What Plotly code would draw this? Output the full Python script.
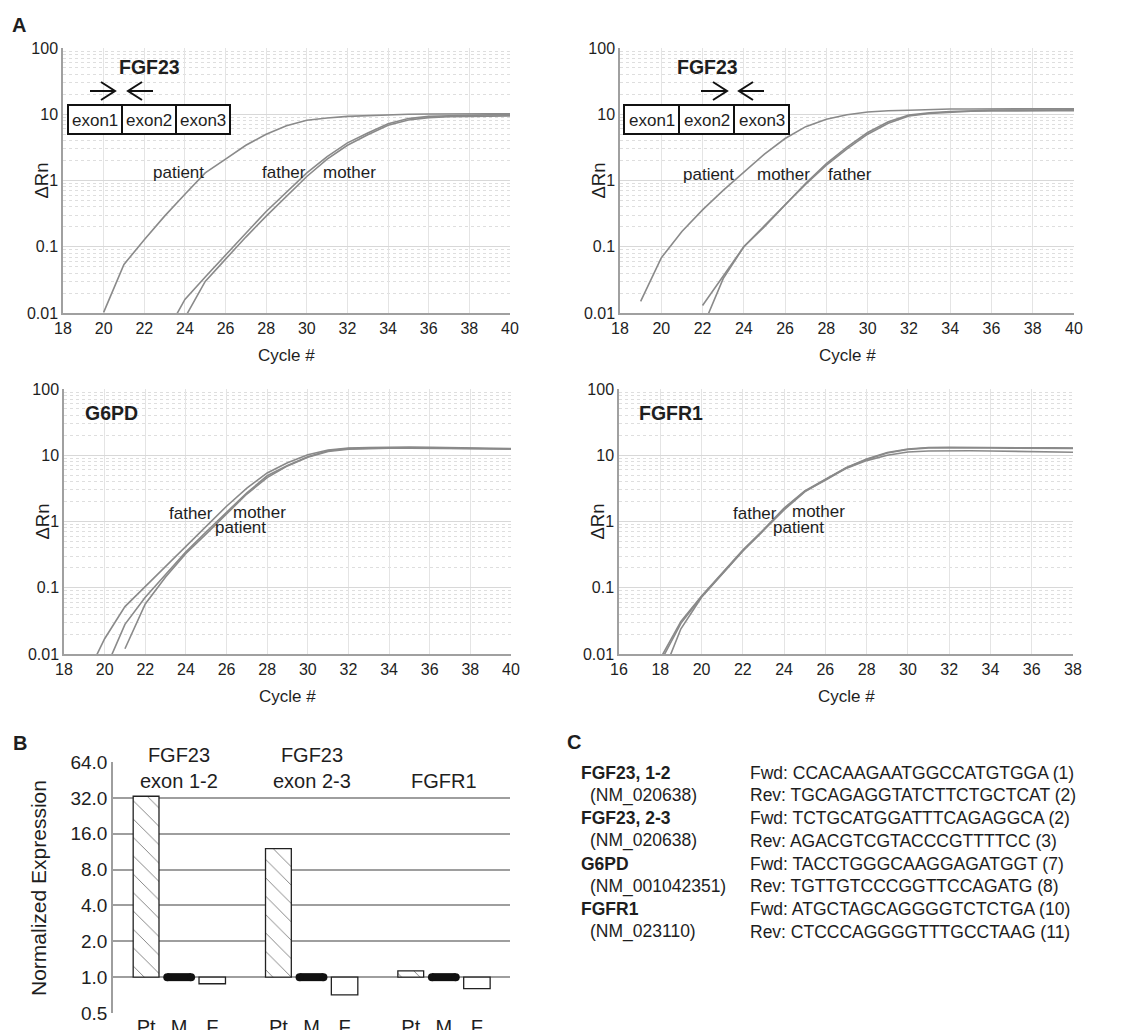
import math
import plotly.graph_objects as go

W, H = 1121, 1030          # target picture size
OFF = 8                    # page body margin in the browser
FW, FH = W - OFF, H - OFF  # figure size that fits in the window
FONT = "Liberation Sans, Arial, sans-serif"

# ---------------- DATA ----------------
# Panel A1: FGF23 exon 1-2 amplification (delta Rn per cycle)
a1_patient_cycle = list(range(20, 41))
a1_patient = [0.0102, 0.054, 0.128, 0.29, 0.62, 1.3, 2.1, 3.4, 5.0, 6.7, 8.1,
              8.8, 9.3, 9.6, 9.8, 10.0, 10.1, 10.2, 10.2, 10.2, 10.2]
a1_father_cycle = list(range(23, 41))
a1_father = [0.0045, 0.016, 0.035, 0.076, 0.16, 0.34, 0.66, 1.3, 2.3, 3.7, 5.2,
             7.2, 8.6, 9.3, 9.5, 9.7, 9.8, 9.8]
a1_mother_cycle = list(range(24, 41))
a1_mother = [0.0085, 0.03, 0.065, 0.14, 0.29, 0.58, 1.15, 2.1, 3.4, 4.9, 6.8,
             8.2, 8.9, 9.2, 9.35, 9.4, 9.45]

# Panel A2: FGF23 exon 2-3
a2_patient_cycle = list(range(19, 41))
a2_patient = [0.015, 0.068, 0.17, 0.36, 0.71, 1.35, 2.5, 4.3, 6.5, 8.4, 9.8,
              10.8, 11.3, 11.5, 11.8, 12.0, 12.0, 12.1, 12.1, 12.1, 12.1, 12.1]
a2_mother_cycle = list(range(22, 41))
a2_mother = [0.013, 0.036, 0.1, 0.2, 0.42, 0.91, 1.8, 3.2, 5.3, 7.7, 9.7,
             10.5, 11.0, 11.3, 11.5, 11.6, 11.7, 11.7, 11.7]
a2_father_cycle = list(range(22, 41))
a2_father = [0.006, 0.033, 0.1, 0.21, 0.43, 0.88, 1.7, 3.0, 5.0, 7.3, 9.4,
             10.3, 10.8, 11.1, 11.2, 11.3, 11.3, 11.3, 11.3]

# Panel A3: G6PD
a3_father_cycle = list(range(19, 41))
a3_father = [0.004, 0.017, 0.052, 0.105, 0.21, 0.42, 0.85, 1.7, 3.2, 5.4, 7.7,
             10.2, 12.0, 12.8, 13.1, 13.3, 13.3, 13.2, 13.0, 12.8, 12.7, 12.6]
a3_mother_cycle = list(range(20, 41))
a3_mother = [0.0055, 0.028, 0.072, 0.16, 0.35, 0.7, 1.4, 2.7, 4.9, 7.0, 9.5,
             11.7, 12.6, 12.9, 13.0, 13.0, 12.9, 12.8, 12.6, 12.5, 12.4]
a3_patient_cycle = list(range(21, 41))
a3_patient = [0.012, 0.057, 0.145, 0.33, 0.65, 1.3, 2.6, 4.6, 6.9, 9.3,
              11.4, 12.3, 12.6, 12.8, 12.8, 12.7, 12.6, 12.5, 12.4, 12.4]

# Panel A4: FGFR1
a4_cycle = list(range(18, 39))
a4_father = [0.0085, 0.031, 0.075, 0.165, 0.37, 0.75, 1.6, 2.9, 4.3, 6.5, 8.8,
             11.0, 12.4, 13.1, 13.2, 13.2, 13.1, 13.0, 12.9, 12.9, 12.8]
a4_mother = [0.0075, 0.029, 0.073, 0.16, 0.36, 0.73, 1.55, 2.85, 4.2, 6.4, 8.6,
             10.8, 12.2, 12.9, 13.0, 13.0, 12.9, 12.8, 12.8, 12.7, 12.7]
a4_patient = [0.004, 0.024, 0.072, 0.16, 0.36, 0.74, 1.5, 2.8, 4.3, 6.3, 8.3,
              10.0, 11.2, 11.6, 11.7, 11.7, 11.6, 11.5, 11.4, 11.3, 11.1]

# Panel B: normalized expression
b_groups = ["FGF23\nexon 1-2", "FGF23\nexon 2-3", "FGFR1"]
b_members = ["Pt", "M", "F"]
b_patient = [33.0, 12.0, 1.13]
b_mother = [1.0, 1.0, 1.0]
b_father = [0.88, 0.71, 0.80]
b_yticks = [0.5, 1, 2, 4, 8, 16, 32, 64]
b_yticktext = ["0.5", "1.0", "2.0", "4.0", "8.0", "16.0", "32.0", "64.0"]

# Panel C: primer table
c_gene = ["FGF23, 1-2", "FGF23, 2-3", "G6PD", "FGFR1"]
c_accession = ["(NM_020638)", "(NM_020638)", "(NM_001042351)", "(NM_023110)"]
c_fwd = ["CCACAAGAATGGCCATGTGGA (1)", "TCTGCATGGATTTCAGAGGCA (2)",
         "TACCTGGGCAAGGAGATGGT (7)", "ATGCTAGCAGGGGTCTCTGA (10)"]
c_rev = ["TGCAGAGGTATCTTCTGCTCAT (2)", "AGACGTCGTACCCGTTTTCC (3)",
         "TGTTGTCCCGGTTCCAGATG (8)", "CTCCCAGGGGTTTGCCTAAG (11)"]

a_yticks = [0.01, 0.1, 1, 10, 100]
a_yticktext = ["0.01", "0.1", "1", "10", "100"]

# ---------------- HELPERS ----------------
def px(x):
    return (x - OFF) / FW


def py(y):
    return 1 - (y - OFF) / FH


CURVE = "#8a8a8a"
TXT = "#1e1e1e"

fig = go.Figure()
annotations = []
shapes = []

minor_vals = [m * 10 ** e for e in range(-2, 2) for m in range(2, 10)]


def add_a_panel(n, xpx, ypx, xrange_, series, labels, title=None):
    xa = "xaxis" + ("" if n == 1 else str(n))
    ya = "yaxis" + ("" if n == 1 else str(n))
    xr = "x" + ("" if n == 1 else str(n))
    yr = "y" + ("" if n == 1 else str(n))
    fig.update_layout({
        xa: dict(domain=[px(xpx[0]), px(xpx[1])], anchor=yr, range=xrange_,
                 dtick=2, tick0=xrange_[0], showgrid=True, gridcolor="#e4e4e4",
                 gridwidth=1, zeroline=False, showline=True, linecolor="#a0a0a0",
                 linewidth=1.5, ticks="", automargin=False,
                 tickfont=dict(size=16, color=TXT, family=FONT), fixedrange=True),
        ya: dict(domain=[py(ypx[1]), py(ypx[0])], anchor=xr, type="log",
                 range=[-2, 2], tickmode="array", tickvals=a_yticks,
                 ticktext=a_yticktext, showgrid=True, gridcolor="#d8d8d8",
                 gridwidth=1, zeroline=False, showline=True, linecolor="#a0a0a0",
                 linewidth=1.5, ticks="", automargin=False,
                 tickfont=dict(size=16, color=TXT, family=FONT),
                 minor=dict(tickmode="array", tickvals=minor_vals, showgrid=True,
                            gridcolor="#dedede", griddash="dot", gridwidth=1),
                 fixedrange=True),
    })
    for cyc, vals in series:
        fig.add_trace(go.Scatter(x=cyc, y=vals, mode="lines",
                                 line=dict(color=CURVE, width=1.6),
                                 xaxis=xr, yaxis=yr, showlegend=False,
                                 hoverinfo="skip"))
    for text, x, y in labels:
        annotations.append(dict(text=text, x=x, y=math.log10(y), xref=xr, yref=yr,
                                showarrow=False, xanchor="center", yanchor="middle",
                                font=dict(size=17, color=TXT, family=FONT)))
    if title:
        t, x, y = title
        annotations.append(dict(text="<b>%s</b>" % t, x=x, y=math.log10(y), xref=xr,
                                yref=yr, showarrow=False, xanchor="center",
                                yanchor="middle",
                                font=dict(size=19.5, color=TXT, family=FONT)))
    xc = (xpx[0] + xpx[1]) / 2
    annotations.append(dict(text="Cycle #", x=px(xc), y=py(ypx[1] + 42), xref="paper",
                            yref="paper", showarrow=False, xanchor="center",
                            yanchor="middle", font=dict(size=17, color=TXT, family=FONT)))
    annotations.append(dict(text="ΔRn", x=px(xpx[0] - 22), y=py((ypx[0] + ypx[1]) / 2),
                            xref="paper", yref="paper", showarrow=False, textangle=-90,
                            xanchor="center", yanchor="middle",
                            font=dict(size=18.5, color=TXT, family=FONT)))


add_a_panel(1, (63, 510), (48, 313), [18, 40],
            [(a1_patient_cycle, a1_patient), (a1_father_cycle, a1_father),
             (a1_mother_cycle, a1_mother)],
            [("patient", 23.67, 1.3), ("father", 28.9, 1.3), ("mother", 32.1, 1.3)])
add_a_panel(2, (620, 1074), (48, 313), [18, 40],
            [(a2_patient_cycle, a2_patient), (a2_mother_cycle, a2_mother),
             (a2_father_cycle, a2_father)],
            [("patient", 22.31, 1.25), ("mother", 25.94, 1.25), ("father", 29.14, 1.25)])
add_a_panel(3, (64, 511), (389, 654), [18, 40],
            [(a3_father_cycle, a3_father), (a3_mother_cycle, a3_mother),
             (a3_patient_cycle, a3_patient)],
            [("father", 24.27, 1.34), ("mother", 27.6, 1.37), ("patient", 26.7, 0.80)],
            title=("G6PD", 20.33, 43.6))
add_a_panel(4, (619, 1073), (389, 654), [16, 38],
            [(a4_cycle, a4_father), (a4_cycle, a4_mother), (a4_cycle, a4_patient)],
            [("father", 22.58, 1.34), ("mother", 25.68, 1.4), ("patient", 24.71, 0.82)],
            title=("FGFR1", 18.5, 43.6))


def exon_diagram(x0, dividers, x1, y0, y1, arrow_r, arrow_l, title_x):
    shapes.append(dict(type="rect", xref="paper", yref="paper", x0=px(x0), x1=px(x1),
                       y0=py(y1), y1=py(y0), line=dict(color="#111", width=2),
                       fillcolor="white", layer="above"))
    for d in dividers:
        shapes.append(dict(type="line", xref="paper", yref="paper", x0=px(d), x1=px(d),
                           y0=py(y1), y1=py(y0), line=dict(color="#111", width=2)))
    edges = [x0] + list(dividers) + [x1]
    for i, name in enumerate(["exon1", "exon2", "exon3"]):
        annotations.append(dict(text=name, x=px((edges[i] + edges[i + 1]) / 2),
                                y=py((y0 + y1) / 2 + 1), xref="paper", yref="paper",
                                showarrow=False, xanchor="center", yanchor="middle",
                                font=dict(size=17, color=TXT, family=FONT)))
    ay = 91
    a0, a1 = arrow_r
    path = "M%f,%f L%f,%f M%f,%f L%f,%f L%f,%f" % (
        px(a0), py(ay), px(a1), py(ay),
        px(a1 - 14), py(ay - 9), px(a1), py(ay), px(a1 - 14), py(ay + 9))
    shapes.append(dict(type="path", xref="paper", yref="paper", path=path,
                       line=dict(color="#111", width=2)))
    b0, b1 = arrow_l
    path = "M%f,%f L%f,%f M%f,%f L%f,%f L%f,%f" % (
        px(b0), py(ay), px(b1), py(ay),
        px(b1 + 14), py(ay - 9), px(b1), py(ay), px(b1 + 14), py(ay + 9))
    shapes.append(dict(type="path", xref="paper", yref="paper", path=path,
                       line=dict(color="#111", width=2)))
    annotations.append(dict(text="<b>FGF23</b>", x=px(title_x), y=py(67), xref="paper",
                            yref="paper", showarrow=False, xanchor="center",
                            yanchor="middle", font=dict(size=19.5, color=TXT, family=FONT)))


exon_diagram(68, (122, 176), 230, 105, 134, (90, 115), (153, 128), 149)
exon_diagram(624, (679, 734), 789, 105, 134, (701, 727), (764, 739), 707)

# ---------------- PANEL B ----------------
pos = []
for g in range(len(b_groups)):
    pos.append([g * 4 + k for k in range(3)])
pt_x = [p[0] for p in pos]
m_x = [p[1] for p in pos]
f_x = [p[2] for p in pos]

fig.add_trace(go.Bar(x=pt_x, y=[v - 1 for v in b_patient], base=[1] * len(b_patient),
                     width=0.78, xaxis="x5", yaxis="y5", showlegend=False,
                     marker=dict(color="white", line=dict(color="#222", width=1.3),
                                 pattern=dict(shape="\\", fgcolor="#666", bgcolor="white",
                                              size=13, solidity=0.06)),
                     hoverinfo="skip"))
fig.add_trace(go.Bar(x=f_x, y=[v - 1 for v in b_father], base=[1] * len(b_father),
                     width=0.8, xaxis="x5", yaxis="y5", showlegend=False,
                     marker=dict(color="white", line=dict(color="#222", width=1.3)),
                     hoverinfo="skip"))
mx, my = [], []
for x, v in zip(m_x, b_mother):
    mx += [x - 0.36, x + 0.36, None]
    my += [v, v, None]
fig.add_trace(go.Scatter(x=mx, y=my, mode="lines+markers", xaxis="x5", yaxis="y5",
                         line=dict(color="#111", width=8),
                         marker=dict(color="#111", size=8), showlegend=False,
                         hoverinfo="skip"))

tickvals_b = [p for grp in pos for p in grp]
ticktext_b = [m for _ in b_groups for m in b_members]
fig.update_layout(
    xaxis5=dict(domain=[px(113), px(510)], anchor="y5", range=[-1, 11],
                tickmode="array", tickvals=tickvals_b, ticktext=ticktext_b,
                showgrid=False, zeroline=False, showline=False, ticks="",
                automargin=False,
                tickfont=dict(size=20, color=TXT, family=FONT), fixedrange=True),
    yaxis5=dict(domain=[py(1013), py(762)], anchor="x5", type="log",
                range=[math.log10(0.5), math.log10(64)], tickmode="array",
                tickvals=b_yticks, ticktext=b_yticktext, showgrid=True,
                gridcolor="#9e9e9e", gridwidth=1.6, zeroline=False, showline=True,
                linecolor="#9e9e9e", linewidth=1.6, ticks="", automargin=False,
                tickfont=dict(size=19, color=TXT, family=FONT), fixedrange=True),
    barmode="overlay",
)
for g, name in enumerate(b_groups):
    parts = name.split("\n")
    center = pos[g][1]
    if len(parts) == 2:
        annotations.append(dict(text=parts[0], x=center, y=py(755), xref="x5",
                                yref="paper", showarrow=False, xanchor="center",
                                yanchor="middle", bgcolor="white", width=84,
                                font=dict(size=20, color=TXT, family=FONT)))
        annotations.append(dict(text=parts[1], x=center, y=py(781), xref="x5",
                                yref="paper", showarrow=False, xanchor="center",
                                yanchor="middle",
                                font=dict(size=20, color=TXT, family=FONT)))
    else:
        annotations.append(dict(text=parts[0], x=center, y=py(781), xref="x5",
                                yref="paper", showarrow=False, xanchor="center",
                                yanchor="middle",
                                font=dict(size=20, color=TXT, family=FONT)))
annotations.append(dict(text="Normalized Expression", x=px(38), y=py(888), xref="paper",
                        yref="paper", showarrow=False, textangle=-90, xanchor="center",
                        yanchor="middle", font=dict(size=21, color=TXT, family=FONT)))

# ---------------- PANEL C ----------------
row0, step = 772.7, 22.7
for i in range(len(c_gene)):
    yg = row0 + 2 * i * step
    ya = yg + step
    annotations.append(dict(text="<b>%s</b>" % c_gene[i], x=px(579), y=py(yg),
                            xref="paper", yref="paper", showarrow=False, xanchor="left",
                            yanchor="middle", font=dict(size=17.5, color=TXT, family=FONT)))
    annotations.append(dict(text=c_accession[i], x=px(588), y=py(ya),
                            xref="paper", yref="paper", showarrow=False, xanchor="left",
                            yanchor="middle", font=dict(size=17.5, color=TXT, family=FONT)))
    annotations.append(dict(text="Fwd: " + c_fwd[i], x=px(748), y=py(yg),
                            xref="paper", yref="paper", showarrow=False, xanchor="left",
                            yanchor="middle", font=dict(size=17.5, color=TXT, family=FONT)))
    annotations.append(dict(text="Rev: " + c_rev[i], x=px(748), y=py(ya),
                            xref="paper", yref="paper", showarrow=False, xanchor="left",
                            yanchor="middle", font=dict(size=17.5, color=TXT, family=FONT)))

for letter, x, y in [("A", 19, 25), ("B", 19.5, 743), ("C", 574, 742)]:
    annotations.append(dict(text="<b>%s</b>" % letter, x=px(x), y=py(y), xref="paper",
                            yref="paper", showarrow=False, xanchor="center",
                            yanchor="middle", font=dict(size=20, color=TXT, family=FONT)))

fig.update_layout(
    template="none",
    width=FW, height=FH, margin=dict(l=0, r=0, t=0, b=0, pad=0, autoexpand=False),
    paper_bgcolor="white", plot_bgcolor="white",
    font=dict(family=FONT, color=TXT),
    annotations=annotations, shapes=shapes, showlegend=False,
)

fig.write_html("out.html", config={"displayModeBar": False})
